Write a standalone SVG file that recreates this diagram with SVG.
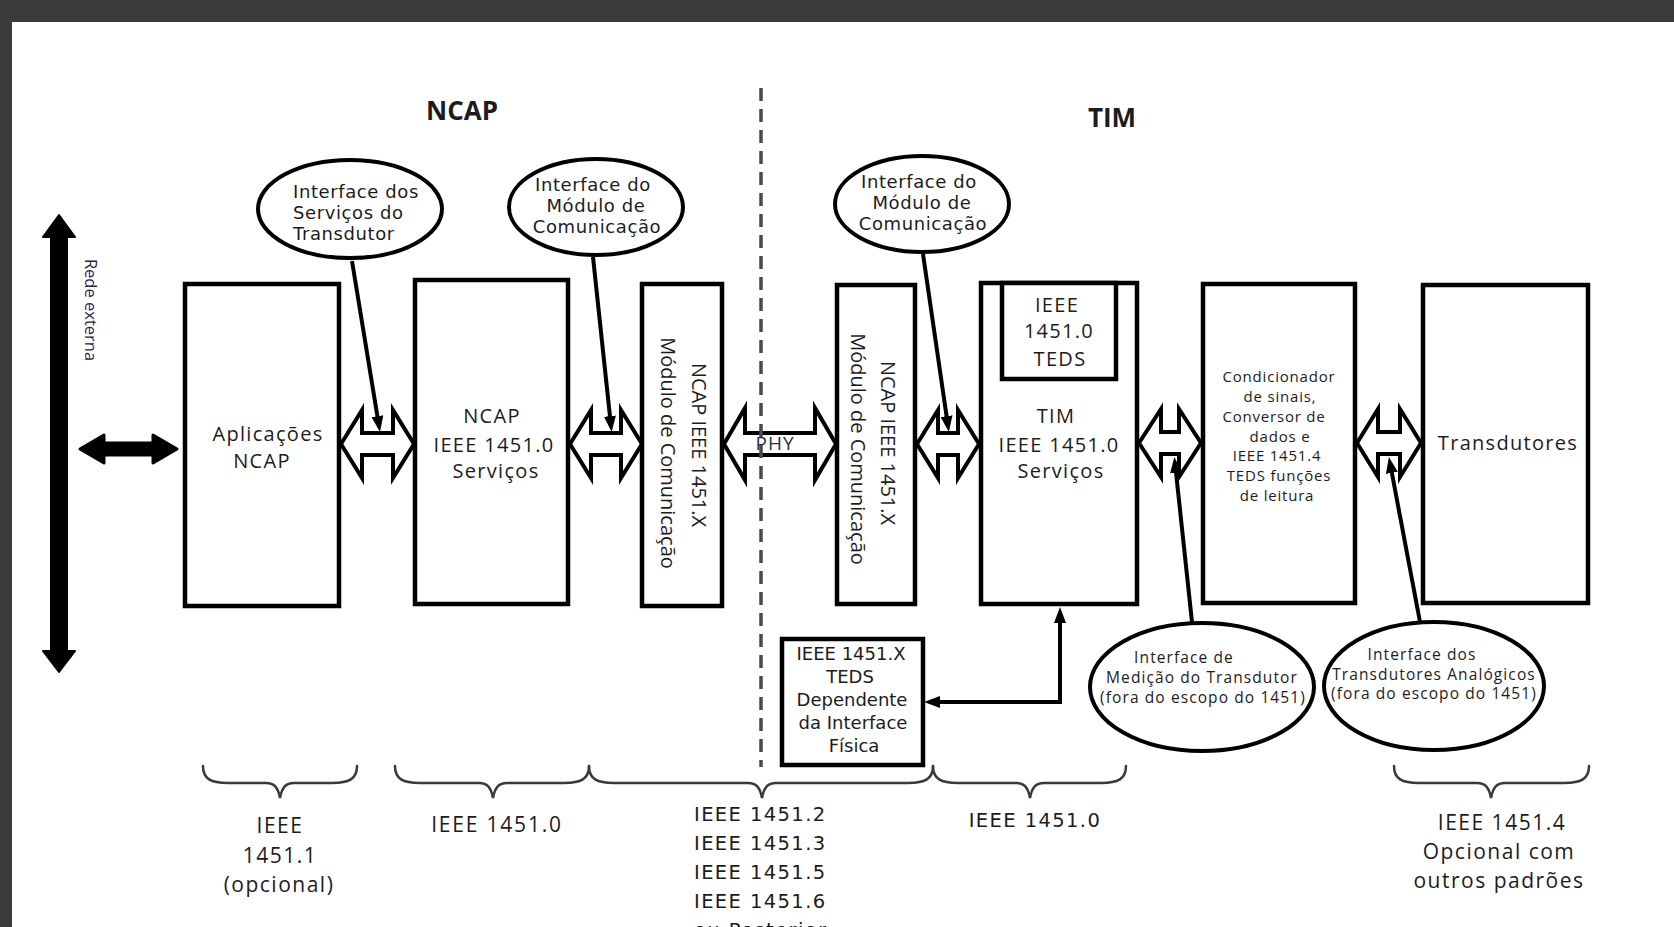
<svg xmlns="http://www.w3.org/2000/svg" width="1674" height="927" viewBox="0 0 1674 927">
<style>
.frame{fill:#3b3b3b}
.box{fill:#fff;stroke:#000;stroke-width:4.5}
.ell{fill:#fff;stroke:#000;stroke-width:4}
.harr{fill:#fff;stroke:#000;stroke-width:4;stroke-linejoin:miter}
.call{fill:none;stroke:#000;stroke-width:4}
.brace{fill:none;stroke:#3a3a3a;stroke-width:2.5;stroke-linecap:round}
text{fill:#1c1c1c}
.t-title{font-family:"Open Sans","Liberation Sans",sans-serif;font-weight:bold;font-size:26px;text-anchor:middle}
.t-box{font-family:"Open Sans","Liberation Sans",sans-serif;font-size:20px;letter-spacing:1.3px;text-anchor:middle}
.t-vert{font-family:"Open Sans","Liberation Sans",sans-serif;font-size:20px;text-anchor:middle}
.t-small{font-family:"Open Sans","Liberation Sans",sans-serif;font-size:15px;letter-spacing:0.8px;text-anchor:middle}
.t-ell{font-family:"DejaVu Sans","Liberation Sans",sans-serif;font-size:18px;letter-spacing:0.6px;text-anchor:middle}
.t-ell2{font-family:"Open Sans","Liberation Sans",sans-serif;font-size:15.5px;letter-spacing:1.1px;text-anchor:middle}
.t-verd{font-family:"DejaVu Sans","Liberation Sans",sans-serif;font-size:18px;text-anchor:middle}
.t-bot{font-family:"Open Sans","Liberation Sans",sans-serif;font-size:21px;letter-spacing:1.5px;text-anchor:middle}
.t-botv{font-family:"DejaVu Sans","Liberation Sans",sans-serif;font-size:19.5px;letter-spacing:1.4px}
</style>
<defs>
<marker id="ah" markerUnits="userSpaceOnUse" markerWidth="16" markerHeight="12" viewBox="0 0 16 12" refX="10" refY="6" orient="auto-start-reverse">
<path d="M0,0 L16,6 L0,12 z" fill="#000"/>
</marker>
</defs>
<rect x="0" y="0" width="1674" height="927" fill="#fff"/>
<rect class="frame" x="0" y="0" width="1674" height="22"/>
<rect class="frame" x="0" y="0" width="12" height="927"/>

<g id="titles">
<text class="t-title" x="462" y="120">NCAP</text>
<text class="t-title" x="1112" y="127">TIM</text>
</g>

<g id="rede-externa">
<path d="M59,215 L75,237 L67,237 L67,651 L75,651 L59,672 L43,651 L51,651 L51,237 L43,237 Z" fill="#000" stroke="#000" stroke-width="2" stroke-linejoin="round"/>
<path d="M80,449 L104,435 L104,443 L153,443 L153,435 L177,449 L153,463 L153,455 L104,455 L104,463 Z" fill="#000" stroke="#000" stroke-width="3" stroke-linejoin="round"/>
<text transform="rotate(90)" x="310" y="-85" style="font-family:'Open Sans','Liberation Sans',sans-serif;font-size:16.5px;text-anchor:middle;fill:#24244a">Rede externa</text>
</g>

<g id="connectors">
<polygon class="harr" points="341,444 362,410 362,433 393,433 393,410 414,444 393,478 393,455 362,455 362,478"/>
<polygon class="harr" points="570,444 591,410 591,433 621,433 621,410 642,444 621,478 621,455 591,455 591,478"/>
<polygon class="harr" points="724,444 745,408 745,433 815,433 815,408 836,444 815,480 815,455 745,455 745,480"/>
<polygon class="harr" points="917,444 938,410 938,433 958,433 958,410 979,444 958,478 958,455 938,455 938,478"/>
<polygon class="harr" points="1139,443 1161,409 1161,432 1179,432 1179,409 1201,443 1179,477 1179,454 1161,454 1161,477"/>
<polygon class="harr" points="1357,443 1378,409 1378,432 1400,432 1400,409 1421,443 1400,477 1400,454 1378,454 1378,477"/>
<text x="775" y="450" style="font-family:'Open Sans','Liberation Sans',sans-serif;font-size:19px;letter-spacing:1px;text-anchor:middle;fill:#2a2f45">PHY</text>
<line x1="761" y1="88" x2="761" y2="767" stroke="#4a4a4a" stroke-width="3.5" stroke-dasharray="13 8"/>
<path class="call" d="M352,261 L379,426" marker-end="url(#ah)"/>
<path class="call" d="M593,257 L611,426" marker-end="url(#ah)"/>
<path class="call" d="M923,254 L948,426" marker-end="url(#ah)"/>
<path class="call" d="M1192,622 L1175,463" marker-end="url(#ah)"/>
<path class="call" d="M1420,622 L1390,463" marker-end="url(#ah)"/>
<path class="call" d="M1060,613 L1060,702 L930,702" marker-start="url(#ah)" marker-end="url(#ah)"/>
</g>

<g id="ell-servicos">
<ellipse class="ell" cx="350" cy="209" rx="92" ry="49"/>
<text class="t-ell" style="text-anchor:start" x="293" y="198">Interface dos</text>
<text class="t-ell" style="text-anchor:start" x="293" y="219">Serviços do</text>
<text class="t-ell" style="text-anchor:start" x="293" y="240">Transdutor</text>
</g>

<g id="ell-modulo-ncap">
<ellipse class="ell" cx="596" cy="207" rx="87" ry="48"/>
<text class="t-ell" x="593" y="191">Interface do</text>
<text class="t-ell" x="596" y="212">Módulo de</text>
<text class="t-ell" x="597" y="233">Comunicação</text>
</g>

<g id="ell-modulo-tim">
<ellipse class="ell" cx="922" cy="204" rx="87" ry="48"/>
<text class="t-ell" x="919" y="188">Interface do</text>
<text class="t-ell" x="922" y="209">Módulo de</text>
<text class="t-ell" x="923" y="230">Comunicação</text>
</g>

<g id="box-aplicacoes">
<rect class="box" x="185" y="284" width="154" height="322"/>
<text class="t-box" x="268" y="441">Aplicações</text>
<text class="t-box" x="262" y="468">NCAP</text>
</g>

<g id="box-ncap-servicos">
<rect class="box" x="415" y="280" width="153" height="324"/>
<text class="t-box" x="492" y="423">NCAP</text>
<text class="t-box" x="494" y="452">IEEE 1451.0</text>
<text class="t-box" x="496" y="478">Serviços</text>
</g>

<g id="box-ncap-modulo">
<rect class="box" x="642" y="284" width="80" height="322"/>
<text class="t-vert" transform="rotate(90)" x="445" y="-692">NCAP IEEE 1451.X</text>
<text class="t-vert" transform="rotate(90)" x="453" y="-661">Módulo de Comunicação</text>
</g>

<g id="box-tim-modulo">
<rect class="box" x="837" y="285" width="78" height="319"/>
<text class="t-vert" transform="rotate(90)" x="443" y="-881">NCAP IEEE 1451.X</text>
<text class="t-vert" transform="rotate(90)" x="449" y="-851">Módulo de Comunicação</text>
</g>

<g id="box-tim">
<rect class="box" x="981" y="283" width="156" height="321"/>
<rect class="box" x="1002" y="283" width="114" height="96"/>
<text class="t-box" x="1057" y="312">IEEE</text>
<text class="t-box" x="1059" y="338">1451.0</text>
<text class="t-box" x="1060" y="366">TEDS</text>
<text class="t-box" x="1056" y="423">TIM</text>
<text class="t-box" x="1059" y="452">IEEE 1451.0</text>
<text class="t-box" x="1061" y="478">Serviços</text>
</g>

<g id="box-condicionador">
<rect class="box" x="1203" y="284" width="152" height="319"/>
<text class="t-small" x="1279" y="382">Condicionador</text>
<text class="t-small" x="1280" y="402">de sinais,</text>
<text class="t-small" x="1274" y="422">Conversor de</text>
<text class="t-small" x="1280" y="442">dados e</text>
<text class="t-small" x="1277" y="461">IEEE 1451.4</text>
<text class="t-small" x="1279" y="481">TEDS funções</text>
<text class="t-small" x="1277" y="501">de leitura</text>
</g>

<g id="box-transdutores">
<rect class="box" x="1423" y="285" width="165" height="318"/>
<text class="t-box" x="1508" y="450">Transdutores</text>
</g>

<g id="box-teds-x">
<rect class="box" x="782" y="639" width="141" height="126"/>
<text class="t-verd" x="851" y="660">IEEE 1451.X</text>
<text class="t-verd" x="850" y="683">TEDS</text>
<text class="t-verd" x="852" y="706">Dependente</text>
<text class="t-verd" x="853" y="729">da Interface</text>
<text class="t-verd" x="854" y="752">Física</text>
</g>

<g id="ell-medicao">
<ellipse class="ell" cx="1202" cy="687" rx="112" ry="64"/>
<text class="t-ell2" x="1184" y="663">Interface de</text>
<text class="t-ell2" x="1202" y="683">Medição do Transdutor</text>
<text class="t-ell2" x="1203" y="703">(fora do escopo do 1451)</text>
</g>

<g id="ell-analogicos">
<ellipse class="ell" cx="1434" cy="686" rx="110" ry="64"/>
<text class="t-ell2" x="1422" y="660">Interface dos</text>
<text class="t-ell2" x="1434" y="680">Transdutores Analógicos</text>
<text class="t-ell2" x="1434" y="699">(fora do escopo do 1451)</text>
</g>

<g id="braces">
<path class="brace" d="M203,766 C203,779 211,783 228,783 L266,783 C274,783 278,787 280,798 C282,787 286,783 294,783 L332,783 C349,783 357,779 357,766"/>
<path class="brace" d="M395,766 C395,779 403,783 420,783 L479,783 C487,783 491,787 493,798 C495,787 499,783 507,783 L564,783 C581,783 589,779 589,766"/>
<path class="brace" d="M589,766 C589,779 597,783 614,783 L748,783 C756,783 760,787 762,798 C764,787 768,783 776,783 L908,783 C925,783 933,779 933,766"/>
<path class="brace" d="M933,766 C933,779 941,783 958,783 L1016,783 C1024,783 1028,787 1030,798 C1032,787 1036,783 1044,783 L1101,783 C1118,783 1126,779 1126,766"/>
<path class="brace" d="M1394,766 C1394,779 1402,783 1419,783 L1477,783 C1485,783 1489,787 1491,798 C1493,787 1497,783 1505,783 L1564,783 C1581,783 1589,779 1589,766"/>
</g>

<g id="labels-bottom">
<text class="t-bot" x="280" y="833">IEEE</text>
<text class="t-bot" x="280" y="863">1451.1</text>
<text class="t-bot" x="279" y="892">(opcional)</text>
<text class="t-bot" style="letter-spacing:1.8px" x="497" y="832">IEEE 1451.0</text>
<text class="t-botv" x="694" y="821">IEEE 1451.2</text>
<text class="t-botv" x="694" y="850">IEEE 1451.3</text>
<text class="t-botv" x="694" y="879">IEEE 1451.5</text>
<text class="t-botv" x="694" y="908">IEEE 1451.6</text>
<text class="t-botv" x="694" y="937">ou Posterior</text>
<text class="t-botv" style="text-anchor:middle" x="1035" y="827">IEEE 1451.0</text>
<text class="t-bot" x="1502" y="830">IEEE 1451.4</text>
<text class="t-bot" x="1499" y="859">Opcional com</text>
<text class="t-bot" x="1499" y="888">outros padrões</text>
</g>
</svg>
